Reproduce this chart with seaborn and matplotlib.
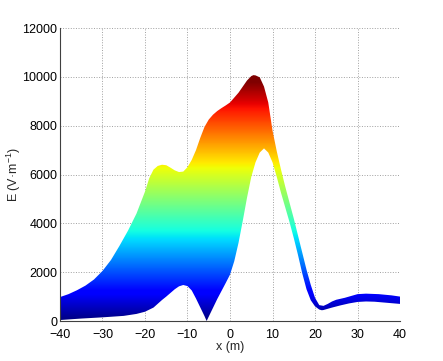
import numpy as np
import matplotlib
matplotlib.use("Agg")
import matplotlib.pyplot as plt
from matplotlib.patches import Polygon
import seaborn as sns

# upper envelope of the field curves (x in m, E in V/m)
x_upper = [-40, -38, -36, -34, -32, -30, -28, -26, -24, -22,
           -20, -19, -18, -17, -16, -15, -14, -13, -12, -11,
           -10, -9, -8, -7, -6, -5, -4, -3, -2, -1,
           0, 1, 2, 3, 4, 5, 5.5, 6, 7, 8, 9, 10, 11, 12,
           13, 14, 15, 16, 17, 18, 19, 20, 21, 22, 23, 24, 25,
           27, 30, 32, 35, 38, 40]
e_upper = [980, 1100, 1260, 1450, 1700, 2050, 2500, 3080, 3700, 4400,
           5300, 5850, 6200, 6350, 6400, 6380, 6280, 6170, 6100, 6120,
           6300, 6600, 7000, 7500, 7950, 8250, 8450, 8600, 8720, 8830,
           8950, 9150, 9350, 9600, 9850, 10030, 10070, 10060, 9980, 9600, 8950, 7800, 6950, 6200,
           5500, 4850, 4200, 3500, 2800, 2100, 1480, 950, 650, 620, 700, 800, 870,
           950, 1100, 1120, 1100, 1050, 1000]

# lower envelope
x_lower = [-40, -35, -30, -25, -22, -20, -18, -16, -15, -14,
           -13, -12, -11, -10, -9, -8, -7, -6, -5.5, -5,
           -4, -3, -2, -1, 0, 1, 2, 3, 4, 5,
           6, 7, 8, 9, 10, 11, 12, 13, 14, 15,
           16, 17, 18, 19, 20, 21, 21.6, 22, 23, 24,
           26, 28, 30, 32, 34, 36, 38, 40]
e_lower = [40, 100, 150, 210, 290, 380, 550, 860, 1000, 1150,
           1300, 1420, 1475, 1430, 1250, 920, 560, 200, 0, 180,
           540, 900, 1230, 1560, 1900, 2450, 3200, 4100, 5050, 5900,
           6500, 6900, 7070, 6900, 6500, 5900, 5250, 4650, 4050, 3400,
           2700, 1950, 1300, 850, 600, 470, 440, 450, 500, 550,
           640, 720, 780, 800, 790, 760, 730, 700]

x_ticks = [-40, -30, -20, -10, 0, 10, 20, 30, 40]
y_ticks = [0, 2000, 4000, 6000, 8000, 10000, 12000]

sns.set_style("white")
plt.rcParams['font.family'] = ['Liberation Sans', 'DejaVu Sans']
plt.rcParams['mathtext.fontset'] = 'custom'
plt.rcParams['mathtext.rm'] = 'Liberation Sans'

fig = plt.figure(figsize=(4.43, 3.61), dpi=100)
ax = fig.add_axes([0.1354, 0.1108, 0.7676, 0.8116])

# band outline: upper curve then lower curve backwards
verts = list(zip(x_upper, e_upper)) + list(zip(x_lower[::-1], e_lower[::-1]))
band = Polygon(verts, closed=True, facecolor='none', edgecolor='none')
ax.add_patch(band)

# vertical colour gradient (jet by field value), clipped to the band
grad = np.linspace(0, 12000, 600).reshape(-1, 1)
im = ax.imshow(grad, extent=[-40, 40, 0, 12000], origin='lower', aspect='auto',
               cmap='jet', vmin=0, vmax=9800, interpolation='bilinear', zorder=2)
im.set_clip_path(band)

ax.set_xlim(-40, 40)
ax.set_ylim(0, 12000)
ax.set_xticks(x_ticks)
ax.set_yticks(y_ticks)
ax.grid(True, linestyle=':', color='#a0a0a0', linewidth=0.7)
ax.set_axisbelow(True)
ax.tick_params(direction='in', length=3, width=0.7, labelsize=9, colors='black')
ax.tick_params(axis='x', pad=6)
ax.tick_params(axis='y', pad=2)
sns.despine(ax=ax, top=True, right=True)
for s in ['left', 'bottom']:
    ax.spines[s].set_color('#404040')
    ax.spines[s].set_linewidth(0.8)

ax.set_xlabel('x (m)', fontsize=9, labelpad=0)
ax.set_ylabel('E (V\u00b7m$^{\\mathregular{-1}}$)', fontsize=9, labelpad=-0.5)

fig.savefig('out.png', dpi=100)
